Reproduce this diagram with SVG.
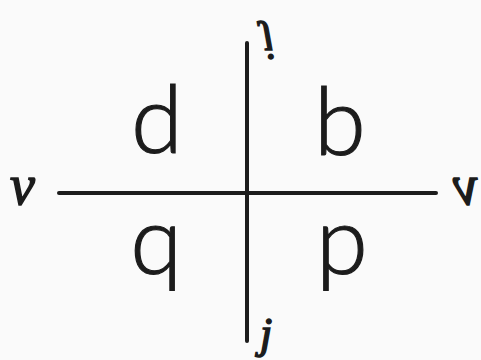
<svg xmlns="http://www.w3.org/2000/svg" width="481" height="360" viewBox="0 0 481 360">
<style>
.ink{fill:#1c1c1c}
.big{font-family:Lato,"Liberation Sans",Arial,sans-serif;font-weight:300;font-size:94px;text-anchor:middle;stroke:#1c1c1c;stroke-width:1.2}
.script{font-family:"Liberation Serif","Times New Roman",serif;font-style:italic;stroke:#1c1c1c;stroke-width:1.5}
.axis{stroke:#1c1c1c;stroke-width:4;stroke-linecap:round;fill:none}
</style>
<rect width="481" height="360" fill="#fafafa"/>
<g id="connectors">
<line class="axis" x1="247" y1="43" x2="247" y2="341"/>
<line class="axis" x1="59" y1="193" x2="436" y2="193"/>
</g>
<g id="node-d"><text class="ink big" x="157" y="153">d</text></g>
<g id="node-b"><text class="ink big" x="340" y="155">b</text></g>
<g id="node-q"><text class="ink big" x="156" y="274">q</text></g>
<g id="node-p"><text class="ink big" x="342" y="274">p</text></g>
<g id="label-v-left"><text class="ink script" x="10" y="204" font-size="56">v</text></g>
<g id="label-v-right"><text class="ink script" transform="translate(478,204) scale(-1,1)" x="0" y="0" font-size="56">v</text></g>
<g id="label-j-top"><text class="ink script" transform="translate(262,30) scale(1,-1)" x="0" y="0" font-size="44">j</text></g>
<g id="label-j-bottom"><text class="ink script" x="260" y="348" font-size="44">j</text></g>
</svg>
